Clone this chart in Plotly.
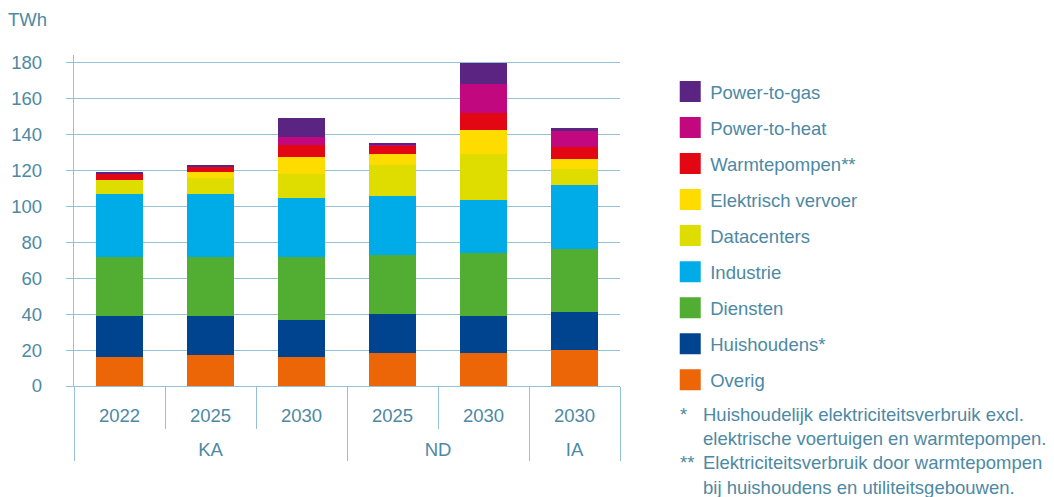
import plotly.graph_objects as go

scenarios = ["KA", "KA", "KA", "ND", "ND", "IA"]
years = ["2022", "2025", "2030", "2025", "2030", "2030"]

series_names = ["Overig", "Huishoudens*", "Diensten", "Industrie", "Datacenters",
                "Elektrisch vervoer", "Warmtepompen**", "Power-to-heat", "Power-to-gas"]
overig = [16.3, 17.4, 16.3, 18.5, 18.5, 20.2]
huishoudens = [22.8, 21.7, 20.6, 21.7, 20.6, 21.1]
diensten = [32.6, 32.6, 34.8, 32.6, 35.0, 34.6]
industrie = [35.2, 35.2, 32.9, 32.9, 29.4, 36.0]
datacenters = [7.8, 8.8, 13.3, 17.3, 25.6, 8.8]
elektrisch_vervoer = [0.0, 3.3, 9.4, 6.1, 13.3, 5.6]
warmtepompen = [3.3, 2.8, 6.7, 4.6, 9.1, 6.7]
power_to_heat = [0.0, 0.0, 4.4, 0.5, 16.6, 8.5]
power_to_gas = [1.1, 1.1, 10.6, 1.0, 11.5, 2.0]

values = [overig, huishoudens, diensten, industrie, datacenters,
          elektrisch_vervoer, warmtepompen, power_to_heat, power_to_gas]
colors = ["#EC6608", "#00448F", "#52AE32", "#00ACE7", "#DFDC00",
          "#FFDC00", "#E30613", "#C2087E", "#5B2483"]

y_ticks = [0, 20, 40, 60, 80, 100, 120, 140, 160, 180]

footnotes = [
    ("*", "Huishoudelijk elektriciteitsverbruik excl."),
    ("", "elektrische voertuigen en warmtepompen."),
    ("**", "Elektriciteitsverbruik door warmtepompen"),
    ("", "bij huishoudens en utiliteitsgebouwen."),
]

TEXT = "#4D89A3"
LINE = "#93C2D8"
FONT = "Liberation Sans"
FS = 18.5

# outer category labels pushed down one line
outer = ["<br>" + s for s in scenarios]

fig = go.Figure()
for name, vals, col in zip(series_names, values, colors):
    fig.add_trace(go.Bar(x=[outer, years], y=vals, name=name,
                         marker=dict(color=col, line=dict(width=0)),
                         showlegend=False))
# legend entries (larger squares), top-down order
for i in reversed(range(len(series_names))):
    fig.add_trace(go.Scatter(x=[None], y=[None], mode="markers", name=series_names[i],
                             legendgroup=f"g{i}",
                             marker=dict(symbol="square", size=16, color=colors[i],
                                         line=dict(width=5, color=colors[i]))))

fig.update_layout(
    barmode="stack",
    bargap=0.49,
    width=1054, height=497,
    margin=dict(l=74, r=434, t=55, b=111, autoexpand=False),
    plot_bgcolor="white", paper_bgcolor="white",
    font=dict(family=FONT, size=FS, color=TEXT),
    legend=dict(x=1.092, y=0.946, xanchor="left", yanchor="top",
                traceorder="grouped", tracegroupgap=9, maxheight=480,
                font=dict(size=FS, color=TEXT), itemsizing="trace",
                bgcolor="rgba(0,0,0,0)"),
    yaxis=dict(range=[0, 184], tickvals=y_ticks, showgrid=True,
               gridcolor=LINE, gridwidth=1.3, showline=True, linecolor=LINE,
               linewidth=1.3, ticks="outside", ticklen=7, tickcolor=LINE,
               tickwidth=1.3, ticklabelstandoff=20, zeroline=False,
               tickfont=dict(size=FS, color=TEXT)),
    xaxis=dict(type="multicategory", showline=True, linecolor=LINE, linewidth=1.3,
               ticks="outside", tickson="boundaries", ticklen=42, tickcolor=LINE,
               tickwidth=1.3, showdividers=True, dividercolor=LINE, dividerwidth=1.3,
               ticklabelstandoff=13,
               tickfont=dict(size=FS, color=TEXT)),
)

fig.add_annotation(xref="paper", yref="paper", x=-0.125, y=1.106, xanchor="left",
                   yanchor="middle", text="TWh", showarrow=False,
                   font=dict(size=FS, color=TEXT))

for i, (mark, txt) in enumerate(footnotes):
    yy = -0.085 - i * 0.0735
    if mark:
        fig.add_annotation(xref="paper", yref="paper", x=1.106, y=yy, xanchor="left",
                           yanchor="middle", text=mark, showarrow=False,
                           font=dict(size=FS, color=TEXT))
    fig.add_annotation(xref="paper", yref="paper", x=1.148, y=yy, xanchor="left",
                       yanchor="middle", text=txt, showarrow=False,
                       font=dict(size=FS, color=TEXT))

fig.write_html("out.html", config={"displayModeBar": False},
               post_script="document.body.style.margin='0';")
